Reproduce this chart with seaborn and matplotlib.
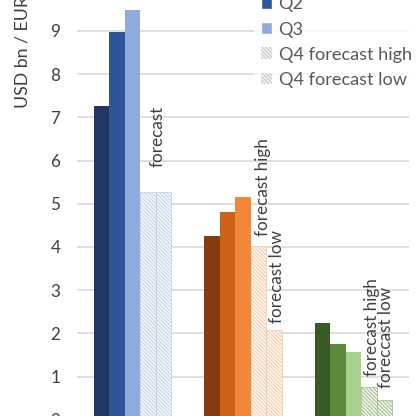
import pandas as pd
import seaborn as sns
import matplotlib.pyplot as plt
from matplotlib.patches import Patch

# ------- data -------
groups = ["A", "B", "C"]
quarters = ["Q1", "Q2", "Q3", "Q4 forecast high", "Q4 forecast low"]
blue_vals = [7.27, 8.98, 9.48, 5.27, 5.27]
orange_vals = [4.26, 4.80, 5.16, 4.01, 2.08]
green_vals = [2.24, 1.76, 1.56, 0.75, 0.45]

# solid colours for Q1..Q3, then hatch colour and hatch fill per group
solid_colors = [["#203864", "#2F5597", "#8FAADC"],
                ["#843C0C", "#CC6218", "#F0883A"],
                ["#385A24", "#5A8A3A", "#A9D18E"]]
hatch_colors = ["#B4C5E0", "#EFBE99", "#86AD71"]
hatch_fills = ["#F5F8FC", "#FEF7F1", "#F4F8F0"]

sns.set_style("white")
plt.rcParams['font.family'] = ['Lato', 'DejaVu Sans']
plt.rcParams['hatch.linewidth'] = 0.55

df = pd.DataFrame({
    "group": [g for g in groups for _ in quarters],
    "quarter": quarters * len(groups),
    "value": blue_vals + orange_vals + green_vals,
})

fig = plt.figure(figsize=(4.16, 4.16), dpi=100)
# chart is a crop: the axes run past the bottom and top of the picture
ax = fig.add_axes([77 / 416, -0.0089, 332 / 416, 1.1007])

sns.barplot(data=df, x="group", y="value", hue="quarter", hue_order=quarters,
            order=groups, width=0.7, saturation=1, legend=False, ax=ax,
            err_kws={'linewidth': 0})

dense = "\\" * 9
for i, cont in enumerate(ax.containers):
    for j, bar in enumerate(cont):
        if i < 3:
            bar.set_facecolor(solid_colors[j][i])
            bar.set_edgecolor("none")
        else:
            bar.set_facecolor(hatch_fills[j])
            bar.set_edgecolor(hatch_colors[j])
            bar.set_hatch(dense)
            bar.set_linewidth(0.4)

ax.set_ylim(0, 10.6)
ax.set_yticks(range(0, 10))
ax.set_xlabel("")
ax.set_ylabel("")
ax.set_xticklabels([])
ax.tick_params(axis='y', length=0, pad=12, labelsize=12.3, labelcolor="#404040")
ax.tick_params(axis='x', length=0)
ax.grid(axis='y', color="#D9D9D9", linewidth=1.2)
ax.set_axisbelow(True)
sns.despine(ax=ax, left=True, top=True, right=True, bottom=True)

# rotated notes above the forecast bars: (group, hue index, text, dx, dy)
notes = [(0, 3, "forecast", 0.09, 0.58),
         (1, 3, "forecast high", 0.04, 0.24),
         (1, 4, "forecast low", 0.03, 0.16),
         (2, 3, "forecast high", 0.025, 0.26),
         (2, 4, "foreccast low", 0.01, 0.28)]
for g, h, txt, dx, dy in notes:
    bar = ax.containers[h][g]
    xc = bar.get_x() + bar.get_width() / 2 + dx
    ax.text(xc, bar.get_height() + dy, txt, rotation=90, ha='center',
            va='bottom', fontsize=12.3, color="#404040")

fig.text(23 / 416, 1 - 108 / 416, "USD bn / EUR bn", rotation=90, ha='center',
         va='bottom', fontsize=12.8, color="#404040")

handles = [Patch(facecolor=solid_colors[0][0]),
           Patch(facecolor=solid_colors[0][1]),
           Patch(facecolor=solid_colors[0][2]),
           Patch(facecolor="#F4F4F4", edgecolor="#B0B0B0", hatch=dense, linewidth=0),
           Patch(facecolor="#F4F4F4", edgecolor="#B0B0B0", hatch=dense, linewidth=0)]
leg = fig.legend(handles, quarters, loc='lower left',
                 bbox_to_anchor=(254 / 416, 1 - 95 / 416),
                 frameon=True, fontsize=13.1, handlelength=0.6, handleheight=0.6,
                 handletextpad=0.35, labelspacing=0.5, borderpad=0.4,
                 borderaxespad=0, fancybox=False)
leg.get_frame().set_facecolor("white")
leg.get_frame().set_edgecolor("none")
for t in leg.get_texts():
    t.set_color("#595959")

fig.savefig("out.png", dpi=100)
